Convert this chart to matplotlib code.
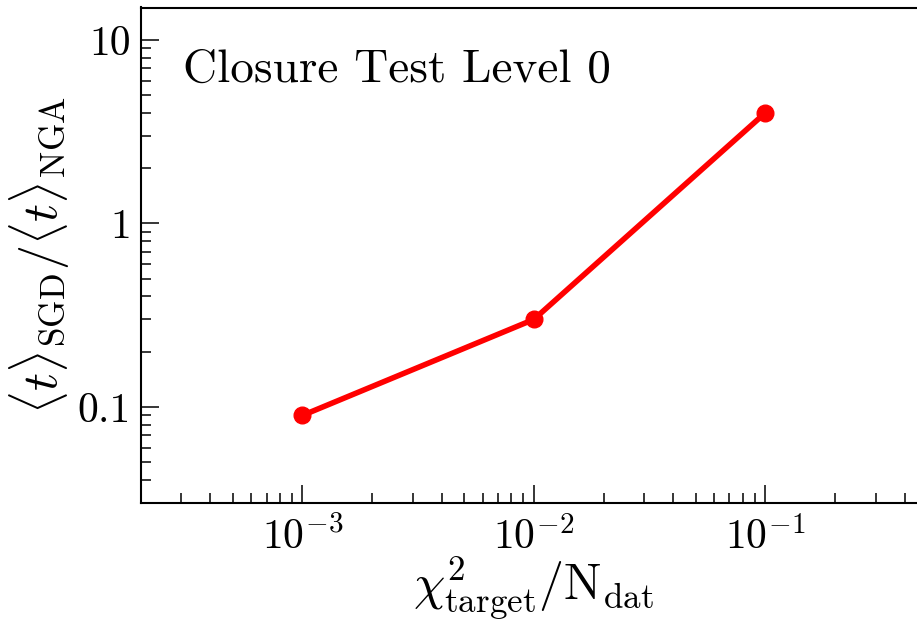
import matplotlib
matplotlib.use("Agg")
import matplotlib.pyplot as plt
from matplotlib.ticker import FixedLocator, FixedFormatter, LogLocator, NullFormatter

plt.rcParams['font.family'] = 'serif'
plt.rcParams['font.serif'] = ['cmr10']
plt.rcParams['mathtext.fontset'] = 'cm'
plt.rcParams['axes.formatter.use_mathtext'] = True
plt.rcParams['axes.unicode_minus'] = True

chi2_target = [1e-3, 1e-2, 1e-1]
time_ratio = [0.09, 0.30, 4.0]

x_ticks = [1e-3, 1e-2, 1e-1]
x_ticklabels = [r'$10^{-3}$', r'$10^{-2}$', r'$10^{-1}$']
y_ticks = [0.1, 1, 10]
y_ticklabels = ['0.1', '1', '10']

W, H = 917, 619
fig = plt.figure(figsize=(W / 100, H / 100), dpi=100)
left, right, top, bottom = 140.7, 927.0, 7.5, 503.0
ax = fig.add_axes([left / W, (H - bottom) / H, (right - left) / W, (bottom - top) / H])

ax.plot(chi2_target, time_ratio, color='red', lw=4, marker='o', ms=12,
        solid_capstyle='butt')

ax.set_xscale('log')
ax.set_yscale('log')
ax.set_xlim(2e-4, 0.5)
ax.set_ylim(0.03, 15)

ax.xaxis.set_major_locator(FixedLocator(x_ticks))
ax.xaxis.set_major_formatter(FixedFormatter(x_ticklabels))
ax.yaxis.set_major_locator(FixedLocator(y_ticks))
ax.yaxis.set_major_formatter(FixedFormatter(y_ticklabels))
ax.xaxis.set_minor_locator(LogLocator(base=10, subs=range(2, 10), numticks=20))
ax.yaxis.set_minor_locator(LogLocator(base=10, subs=range(2, 10), numticks=20))
ax.xaxis.set_minor_formatter(NullFormatter())
ax.yaxis.set_minor_formatter(NullFormatter())

ax.tick_params(which='both', direction='in', top=False, right=False, width=1.1)
ax.tick_params(which='major', length=13, labelsize=30)
ax.tick_params(axis='y', which='major', pad=7)
ax.tick_params(axis='x', which='major', pad=10)
ax.tick_params(which='minor', length=7)
for s in ax.spines.values():
    s.set_linewidth(1.5)

ax.set_xlabel(r'$\chi^2_{\rm target}/{\rm N}_{\rm dat}$', fontsize=36, labelpad=-2)
ax.set_ylabel(r'$\langle t\rangle_{\rm SGD}/\langle t\rangle_{\rm NGA}$', fontsize=36, labelpad=4)

ax.text(0.054, 0.85, 'Closure Test Level 0', transform=ax.transAxes,
        fontsize=34, va='baseline', ha='left')

fig.savefig('out.png', dpi=100)
